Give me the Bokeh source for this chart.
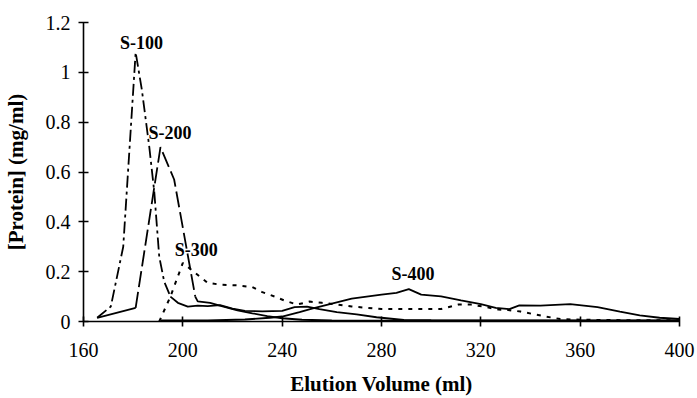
from bokeh.plotting import figure
from bokeh.models import Range1d, FixedTicker, Label
from bokeh.embed import file_html
from bokeh.resources import INLINE

# ---- data ----
s100_x = [165.5, 171, 176, 181, 183.5, 186.5, 188.5, 190.5, 192.5, 195,
          198, 202, 206, 210, 215, 220, 225, 232, 240, 245, 250, 255, 262, 270, 278, 289, 300, 330, 360, 400]
s100_y = [0.015, 0.06, 0.30, 1.08, 0.93, 0.70, 0.52, 0.26, 0.16, 0.10,
          0.075, 0.06, 0.064, 0.062, 0.066, 0.052, 0.043, 0.041, 0.043, 0.058, 0.06, 0.05, 0.038, 0.029, 0.017, 0.006, 0.005, 0.004, 0.004, 0.004]
s100_split = 9  # dash-dot up to this index, solid tail after

s200_x = [165.5, 181, 191, 196.5, 205, 206, 211, 216, 222, 228, 234, 240, 248, 260, 300, 400]
s200_y = [0.015, 0.055, 0.70, 0.57, 0.10, 0.081, 0.075, 0.061, 0.045, 0.033, 0.022, 0.013, 0.007, 0.004, 0.003, 0.003]
s200_split = 4

s300_x = [190.5, 195, 200, 205, 210, 215, 222, 228, 232, 237, 241, 246, 251, 256, 262, 268, 280, 290, 304,
          311, 316, 321, 327, 331, 336, 341, 346, 352, 360, 380, 400]
s300_y = [0.0, 0.10, 0.235, 0.195, 0.155, 0.148, 0.145, 0.138, 0.118, 0.10, 0.084, 0.068, 0.08, 0.075, 0.068, 0.06, 0.05, 0.05, 0.05,
          0.068, 0.068, 0.06, 0.048, 0.046, 0.04, 0.03, 0.02, 0.01, 0.007, 0.005, 0.005]

s400_x = [191, 210, 225, 235, 240, 247, 252, 260, 268, 280, 286, 291, 296, 304, 312, 320, 326, 331.5,
          335.5, 344, 356, 367, 376, 384, 392, 400]
s400_y = [0.004, 0.004, 0.008, 0.015, 0.02, 0.038, 0.052, 0.072, 0.092, 0.108, 0.115, 0.13, 0.108, 0.101, 0.085, 0.07, 0.055, 0.05,
          0.065, 0.064, 0.07, 0.058, 0.04, 0.025, 0.015, 0.01]

x_ticks = [160, 200, 240, 280, 320, 360, 400]
y_ticks = [0, 0.2, 0.4, 0.6, 0.8, 1.0, 1.2]
y_tick_labels = {0: "0", 0.2: "0.2", 0.4: "0.4", 0.6: "0.6", 0.8: "0.8", 1.0: "1", 1.2: "1.2"}

labels = ["S-100", "S-200", "S-300", "S-400"]
label_x = [183.4, 194.8, 205.4, 292.7]
label_y = [1.118, 0.758, 0.288, 0.192]

SERIF = "Liberation Serif"

p = figure(width=697, height=398, output_backend="svg", toolbar_location=None,
           x_range=Range1d(160, 400), y_range=Range1d(0, 1.2),
           min_border_left=79, min_border_right=18, min_border_top=22, min_border_bottom=76)
p.outline_line_color = None
p.xgrid.visible = False
p.ygrid.visible = False
p.background_fill_color = "white"
p.border_fill_color = "white"

lw = 1.8
# S-100: dash-dot, then solid tail
p.line(s100_x[:s100_split + 1], s100_y[:s100_split + 1], line_color="black", line_width=lw, line_dash="12 4 3 4")
p.line(s100_x[s100_split:], s100_y[s100_split:], line_color="black", line_width=lw)
# S-200: solid start, long dash, solid tail
p.line(s200_x[:2], s200_y[:2], line_color="black", line_width=lw)
p.line(s200_x[1:s200_split + 1], s200_y[1:s200_split + 1], line_color="black", line_width=lw, line_dash="16 5")
p.line(s200_x[s200_split:], s200_y[s200_split:], line_color="black", line_width=lw)
# S-300: dotted
p.line(s300_x, s300_y, line_color="black", line_width=2, line_dash="4 6")
# S-400: solid
p.line(s400_x, s400_y, line_color="black", line_width=lw)

for t, lx, ly in zip(labels, label_x, label_y):
    p.add_layout(Label(x=lx, y=ly, text=t, text_align="center", text_baseline="middle",
                       text_font=SERIF, text_font_style="bold", text_font_size="18px", text_color="black"))

for ax in (p.xaxis[0], p.yaxis[0]):
    ax.axis_line_color = "black"
    ax.axis_line_width = 1.6
    ax.major_tick_line_color = "black"
    ax.major_tick_line_width = 1.6
    ax.major_tick_in = 5
    ax.major_tick_out = 5
    ax.minor_tick_line_color = None
    ax.major_label_text_font = SERIF
    ax.major_label_text_font_size = "20px"
    ax.major_label_text_color = "black"
    ax.axis_label_text_font = SERIF
    ax.axis_label_text_font_style = "bold"
    ax.axis_label_text_font_size = "21px"
    ax.axis_label_text_color = "black"

p.xaxis.ticker = FixedTicker(ticks=x_ticks)
p.yaxis.ticker = FixedTicker(ticks=y_ticks)
p.yaxis.major_label_overrides = y_tick_labels
p.xaxis.major_label_standoff = 16
p.yaxis.major_label_standoff = 8
p.xaxis.axis_label = "Elution Volume (ml)"
p.yaxis.axis_label = "[Protein] (mg/ml)"
p.xaxis.axis_label_standoff = 12
p.yaxis.axis_label_standoff = 15

open("out.html", "w").write(file_html(p, INLINE))
